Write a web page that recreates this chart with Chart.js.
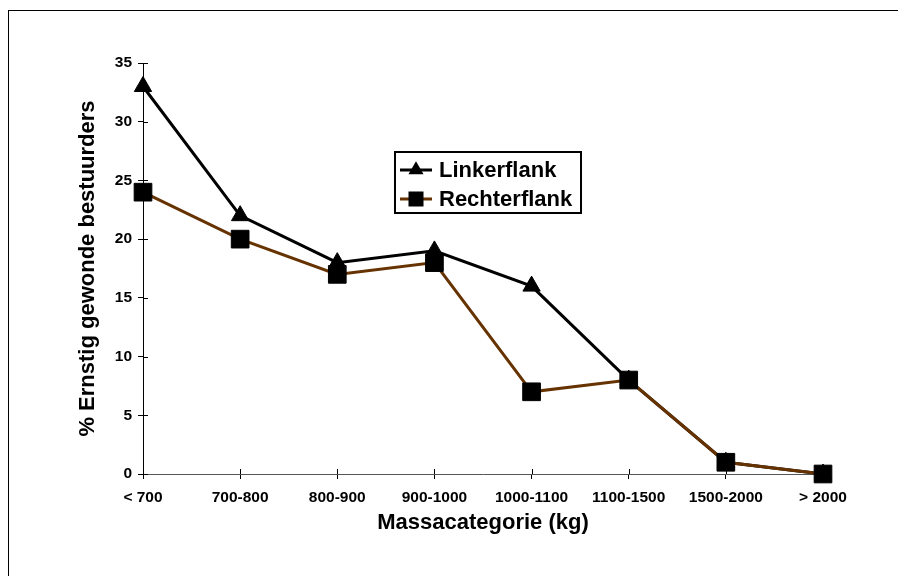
<!DOCTYPE html>
<html>
<head>
<meta charset="utf-8">
<script src="https://cdn.jsdelivr.net/npm/chart.js@4"></script>
<style>
  html, body { margin: 0; padding: 0; background: #fff; }
  #wrap { position: relative; width: 898px; height: 576px; overflow: hidden; }
  #frame { position: absolute; left: 8px; top: 10px; width: 900px; height: 580px;
           border-top: 1px solid #000; border-left: 1px solid #000; pointer-events: none; }
  canvas { display: block; }
</style>
</head>
<body>
<div id="wrap">
  <canvas id="c" width="898" height="576"></canvas>
  <div id="frame"></div>
</div>
<script>
const categories = ['< 700', '700-800', '800-900', '900-1000', '1000-1100', '1100-1500', '1500-2000', '> 2000'];
const linkerflank = [33, 22, 18, 19, 16, 8, 1, 0];
const rechterflank = [24, 20, 17, 18, 7, 8, 1, 0];
const yTicks = [0, 5, 10, 15, 20, 25, 30, 35];
const seriesNames = ['Linkerflank', 'Rechterflank'];
const xTitle = 'Massacategorie (kg)';
const yTitle = '% Ernstig gewonde bestuurders';

const FONT = 'Liberation Sans, Arial, Helvetica, sans-serif';
const BROWN = '#663300';

const innerTicks = {
  id: 'innerTicks',
  afterDraw(chart) {
    const ctx = chart.ctx;
    const xs = chart.scales.x, ys = chart.scales.y;
    ctx.save();
    ctx.strokeStyle = '#000';
    ctx.lineWidth = 1;
    ctx.beginPath();
    ys.ticks.forEach((t, i) => {
      const y = Math.round(ys.getPixelForTick(i)) + 0.5;
      ctx.moveTo(ys.right, y); ctx.lineTo(ys.right + 5, y);
    });
    xs.ticks.forEach((t, i) => {
      const x = Math.round(xs.getPixelForTick(i)) + 0.5;
      ctx.moveTo(x, xs.top); ctx.lineTo(x, xs.top - 5);
    });
    ctx.stroke();
    ctx.restore();
  }
};

const legendBox = {
  id: 'legendBox',
  afterDraw(chart) {
    const ctx = chart.ctx;
    ctx.save();
    ctx.fillStyle = '#fff';
    ctx.fillRect(395, 152, 186, 61);
    ctx.strokeStyle = '#000';
    ctx.lineWidth = 2;
    ctx.strokeRect(395, 152, 186, 61);
    // row 1
    let y = 170;
    ctx.strokeStyle = '#000'; ctx.lineWidth = 3;
    ctx.beginPath(); ctx.moveTo(400, y); ctx.lineTo(432, y); ctx.stroke();
    ctx.fillStyle = '#000';
    const r = 8.7;
    ctx.beginPath();
    ctx.moveTo(416, y - r);
    ctx.lineTo(416 + r * Math.sin(Math.PI * 2 / 3), y + r / 2);
    ctx.lineTo(416 - r * Math.sin(Math.PI * 2 / 3), y + r / 2);
    ctx.closePath(); ctx.fill();
    ctx.font = 'bold 22px ' + FONT;
    ctx.textBaseline = 'middle';
    ctx.textAlign = 'left';
    ctx.fillText(seriesNames[0], 439, y + 1);
    // row 2
    y = 199;
    ctx.strokeStyle = BROWN; ctx.lineWidth = 3;
    ctx.beginPath(); ctx.moveTo(400, y); ctx.lineTo(432, y); ctx.stroke();
    ctx.fillStyle = '#000';
    ctx.fillRect(416 - 7.5, y - 7.5, 15, 15);
    ctx.fillText(seriesNames[1], 439, y + 1);
    ctx.restore();
  }
};

new Chart(document.getElementById('c'), {
  type: 'line',
  data: {
    labels: categories,
    datasets: [
      {
        label: seriesNames[0],
        data: linkerflank,
        borderColor: '#000',
        backgroundColor: '#000',
        borderWidth: 3,
        pointStyle: 'triangle',
        pointRadius: 10,
        pointBorderWidth: 1,
        pointBackgroundColor: '#000',
        pointBorderColor: '#000',
        tension: 0,
        clip: false,
        order: 1
      },
      {
        label: seriesNames[1],
        data: rechterflank,
        borderColor: BROWN,
        backgroundColor: '#000',
        borderWidth: 3,
        pointStyle: 'rect',
        pointRadius: 12.5,
        pointBorderWidth: 1,
        pointBackgroundColor: '#000',
        pointBorderColor: '#000',
        tension: 0,
        clip: false,
        order: 0
      }
    ]
  },
  options: {
    responsive: false,
    animation: false,
    devicePixelRatio: 1,
    layout: { padding: { top: 63, right: 75, bottom: 0, left: 0 } },
    plugins: {
      legend: { display: false },
      tooltip: { enabled: false }
    },
    scales: {
      x: {
        type: 'category',
        offset: false,
        grid: { display: true, drawOnChartArea: false, drawTicks: true, tickLength: 5, color: '#000', lineWidth: 1 },
        border: { display: true, color: '#555', width: 1 },
        ticks: { color: '#000', font: { family: FONT, size: 15.5, weight: 'bold' }, padding: 9, maxRotation: 0, autoSkip: false },
        title: { display: true, text: xTitle, color: '#000', font: { family: FONT, size: 22, weight: 'bold' }, padding: { top: 0, bottom: 40 } },
        afterFit(s) { s.height = 102; }
      },
      y: {
        min: 0,
        max: 35,
        afterBuildTicks(s) { s.ticks = yTicks.map(v => ({ value: v })); },
        grid: { display: true, drawOnChartArea: false, drawTicks: true, tickLength: 5, color: '#000', lineWidth: 1 },
        border: { display: true, color: '#000', width: 1 },
        ticks: { color: '#000', font: { family: FONT, size: 15.5, weight: 'bold' }, padding: 6 },
        title: { display: true, text: yTitle, color: '#000', font: { family: FONT, size: 22, weight: 'bold' }, padding: { top: 75, bottom: 0 } },
        afterFit(s) { s.width = 143; }
      }
    }
  },
  plugins: [innerTicks, legendBox]
});
</script>
</body>
</html>
